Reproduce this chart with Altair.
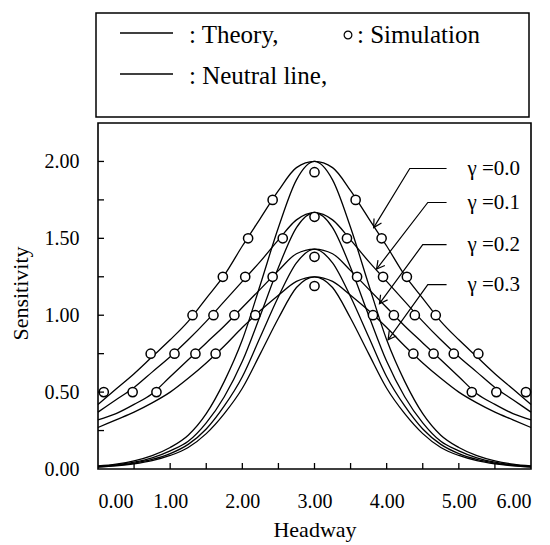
import altair as alt
import pandas as pd

# ---------------- data ----------------
headway = [0.0, 0.25, 0.5, 0.75, 1.0, 1.25, 1.5, 1.75, 2.0, 2.25, 2.5, 2.75, 3.0,
           3.25, 3.5, 3.75, 4.0, 4.25, 4.5, 4.75, 5.0, 5.25, 5.5, 5.75, 6.0]

theory_g00 = [0.42, 0.52, 0.62, 0.73, 0.84, 0.96, 1.11, 1.26, 1.45, 1.63, 1.81, 1.96, 2.00,
              1.96, 1.81, 1.63, 1.45, 1.26, 1.11, 0.96, 0.84, 0.73, 0.62, 0.52, 0.42]
theory_g01 = [0.37, 0.45, 0.53, 0.63, 0.73, 0.84, 0.96, 1.09, 1.22, 1.35, 1.49, 1.62, 1.667,
              1.62, 1.49, 1.35, 1.22, 1.09, 0.96, 0.84, 0.73, 0.63, 0.53, 0.45, 0.37]
theory_g02 = [0.32, 0.36, 0.42, 0.49, 0.60, 0.71, 0.82, 0.93, 1.05, 1.17, 1.29, 1.40, 1.43,
              1.40, 1.29, 1.17, 1.05, 0.93, 0.82, 0.71, 0.60, 0.49, 0.42, 0.36, 0.32]
theory_g03 = [0.27, 0.32, 0.37, 0.43, 0.50, 0.59, 0.69, 0.80, 0.92, 1.03, 1.13, 1.22, 1.25,
              1.22, 1.13, 1.03, 0.92, 0.80, 0.69, 0.59, 0.50, 0.43, 0.37, 0.32, 0.27]

neutral_g00 = [0.02, 0.032, 0.053, 0.087, 0.14, 0.22, 0.36, 0.57, 0.84, 1.20, 1.57, 1.88, 2.00,
               1.88, 1.57, 1.20, 0.84, 0.57, 0.36, 0.22, 0.14, 0.087, 0.053, 0.032, 0.02]
neutral_g01 = [0.017, 0.027, 0.044, 0.072, 0.118, 0.18, 0.30, 0.47, 0.70, 1.00, 1.31, 1.57, 1.667,
               1.57, 1.31, 1.00, 0.70, 0.47, 0.30, 0.18, 0.118, 0.072, 0.044, 0.027, 0.017]
neutral_g02 = [0.014, 0.023, 0.038, 0.062, 0.10, 0.16, 0.26, 0.41, 0.60, 0.86, 1.12, 1.34, 1.43,
               1.34, 1.12, 0.86, 0.60, 0.41, 0.26, 0.16, 0.10, 0.062, 0.038, 0.023, 0.014]
neutral_g03 = [0.012, 0.02, 0.033, 0.054, 0.088, 0.14, 0.23, 0.36, 0.525, 0.75, 0.98, 1.18, 1.25,
               1.18, 0.98, 0.75, 0.525, 0.36, 0.23, 0.14, 0.088, 0.054, 0.033, 0.02, 0.012]

sim_headway = [0.08, 0.73, 1.31, 1.73, 2.08, 2.42, 3.0, 3.57, 3.93, 4.28, 4.68, 5.27, 5.93,
               0.48, 1.06, 1.60, 2.04, 2.56, 3.0, 3.45, 3.95, 4.39, 4.93, 5.52,
               0.81, 1.35, 1.89, 2.42, 3.0, 3.59, 4.10, 4.65, 5.18,
               1.63, 2.18, 3.0, 3.81, 4.37]
sim_sensitivity = [0.5, 0.75, 1.0, 1.25, 1.5, 1.75, 1.93, 1.75, 1.5, 1.25, 1.0, 0.75, 0.5,
                   0.5, 0.75, 1.0, 1.25, 1.5, 1.64, 1.5, 1.25, 1.0, 0.75, 0.5,
                   0.5, 0.75, 1.0, 1.25, 1.38, 1.25, 1.0, 0.75, 0.5,
                   0.75, 1.0, 1.19, 1.0, 0.75]

gamma_labels = ["γ =0.0", "γ =0.1", "γ =0.2", "γ =0.3"]
label_headway = [5.12, 5.12, 5.12, 5.12]
label_sens = [1.954, 1.733, 1.459, 1.199]
arrow_start_h = [4.83, 4.83, 4.83, 4.83]
arrow_corner_h = [4.32, 4.57, 4.50, 4.57]
arrow_tip_h = [3.82, 3.86, 3.90, 4.02]
arrow_tip_v = [1.57, 1.30, 1.075, 0.84]
arrow_angle = [121, 128, 126, 126]

x_labels = [0, 1, 2, 3, 4, 5, 6]
y_labels = [0, 0.5, 1.0, 1.5, 2.0]
x_ticks = [0.5, 1.0, 1.5, 2.0, 2.5, 3.0, 3.5, 4.0, 4.5, 5.0, 5.5]
y_ticks = [0.25, 0.5, 0.75, 1.0, 1.25, 1.5, 1.75, 2.0]

# ---------------- tables ----------------
curves = []
for name, vals in [("t0", theory_g00), ("t1", theory_g01), ("t2", theory_g02), ("t3", theory_g03),
                   ("n0", neutral_g00), ("n1", neutral_g01), ("n2", neutral_g02), ("n3", neutral_g03)]:
    for h, v in zip(headway, vals):
        curves.append({"h": h, "v": v, "curve": name})
curves_df = pd.DataFrame(curves)
sim_df = pd.DataFrame({"h": sim_headway, "v": sim_sensitivity})

arrows = []
for i in range(4):
    arrows += [{"h": arrow_start_h[i], "v": label_sens[i], "a": i, "o": 0},
               {"h": arrow_corner_h[i], "v": label_sens[i], "a": i, "o": 1},
               {"h": arrow_tip_h[i], "v": arrow_tip_v[i], "a": i, "o": 2}]
arrow_df = pd.DataFrame(arrows)
head_df = pd.DataFrame({"h": arrow_tip_h, "v": arrow_tip_v, "ang": arrow_angle})
lab_df = pd.DataFrame({"h": label_headway, "v": label_sens, "t": gamma_labels})
xt_df = pd.DataFrame({"h": x_ticks})
yt_df = pd.DataFrame({"v": y_ticks})
one = pd.DataFrame({"k": [0]})

FONT = "Liberation Serif"
W, H = 433, 346

xscale = alt.Scale(domain=[0, 6], nice=False, zero=False)
yscale = alt.Scale(domain=[0, 2.25], nice=False, zero=False)

xaxis = alt.Axis(values=x_labels, format=".2f", ticks=False, tickSize=0, domain=False, grid=False,
                 labelFont=FONT, labelFontSize=20, labelColor="black", labelPadding=22,
                 title="Headway", titleFont=FONT, titleFontSize=22, titleFontWeight="normal",
                 titleColor="black", titleY=60, titleBaseline="middle")
yaxis = alt.Axis(values=y_labels, format=".2f", ticks=False, tickSize=0, domain=False, grid=False,
                 labelFont=FONT, labelFontSize=20, labelColor="black", labelPadding=19,
                 title="Sensitivity", titleFont=FONT, titleFontSize=22, titleFontWeight="normal",
                 titleColor="black", titleX=-78, titleY=170, titleBaseline="middle",
                 titleAlign="center", titleAngle=270)

lines = alt.Chart(curves_df).mark_line(color="black", strokeWidth=1.3, interpolate="monotone").encode(
    x=alt.X("h:Q", scale=xscale, axis=xaxis),
    y=alt.Y("v:Q", scale=yscale, axis=yaxis),
    detail="curve:N",
)

sims = alt.Chart(sim_df).mark_point(shape="circle", filled=True, fill="white", stroke="black",
                                    strokeWidth=1.5, size=85, opacity=1).encode(
    x=alt.X("h:Q", scale=xscale), y=alt.Y("v:Q", scale=yscale))

arrow_lines = alt.Chart(arrow_df).mark_line(color="black", strokeWidth=1.2).encode(
    x=alt.X("h:Q", scale=xscale), y=alt.Y("v:Q", scale=yscale), detail="a:N", order="o:Q")

heads = alt.Chart(head_df).mark_point(shape="M-1,-0.55L0,0L-1,0.55", filled=False, stroke="black",
                                      strokeWidth=1.2, size=250, opacity=1).encode(
    x=alt.X("h:Q", scale=xscale), y=alt.Y("v:Q", scale=yscale), angle=alt.Angle("ang:Q", scale=None))

labels = alt.Chart(lab_df).mark_text(align="left", baseline="middle", font=FONT, fontSize=21,
                                     color="black").encode(
    x=alt.X("h:Q", scale=xscale), y=alt.Y("v:Q", scale=yscale), text="t:N")

xticks = alt.Chart(xt_df).mark_rule(color="black", strokeWidth=1.3).encode(
    x=alt.X("h:Q", scale=xscale), y=alt.value(H), y2=alt.value(H - 6))
yticks = alt.Chart(yt_df).mark_rule(color="black", strokeWidth=1.3).encode(
    y=alt.Y("v:Q", scale=yscale), x=alt.value(0), x2=alt.value(6))

# legend box drawn above the plot
box = alt.Chart(one).mark_rect(filled=False, stroke="black", strokeWidth=1.5).encode(
    x=alt.value(-2), x2=alt.value(431), y=alt.value(-110), y2=alt.value(-6))
leg_l1 = alt.Chart(one).mark_rule(color="black", strokeWidth=1.3).encode(
    x=alt.value(22), x2=alt.value(75), y=alt.value(-90))
leg_l2 = alt.Chart(one).mark_rule(color="black", strokeWidth=1.3).encode(
    x=alt.value(22), x2=alt.value(75), y=alt.value(-49))
leg_t1 = alt.Chart(one).mark_text(text=": Theory,", align="left", baseline="middle", font=FONT,
                                  fontSize=25, color="black").encode(x=alt.value(91), y=alt.value(-88))
leg_c = alt.Chart(one).mark_point(shape="circle", filled=False, stroke="black", strokeWidth=1.2,
                                  size=60, opacity=1).encode(x=alt.value(250), y=alt.value(-88))
leg_t2 = alt.Chart(one).mark_text(text=": Simulation", align="left", baseline="middle", font=FONT,
                                  fontSize=25, color="black").encode(x=alt.value(259), y=alt.value(-88))
leg_t3 = alt.Chart(one).mark_text(text=": Neutral line,", align="left", baseline="middle", font=FONT,
                                  fontSize=25, color="black").encode(x=alt.value(91), y=alt.value(-47))

chart = alt.layer(lines, arrow_lines, heads, sims, labels, xticks, yticks,
                  box, leg_l1, leg_l2, leg_t1, leg_c, leg_t2, leg_t3).properties(
    width=W, height=H,
    padding={"left": 90, "top": 115, "right": 10, "bottom": 80},
    autosize=alt.AutoSizeParams(type="none"),
).configure_view(stroke="black", strokeWidth=1.6).configure_axis(
    labelFont=FONT, titleFont=FONT, titleFontWeight="normal"
).configure_text(font=FONT)

chart.save("out.html", embed_options={"renderer": "svg", "actions": False})
